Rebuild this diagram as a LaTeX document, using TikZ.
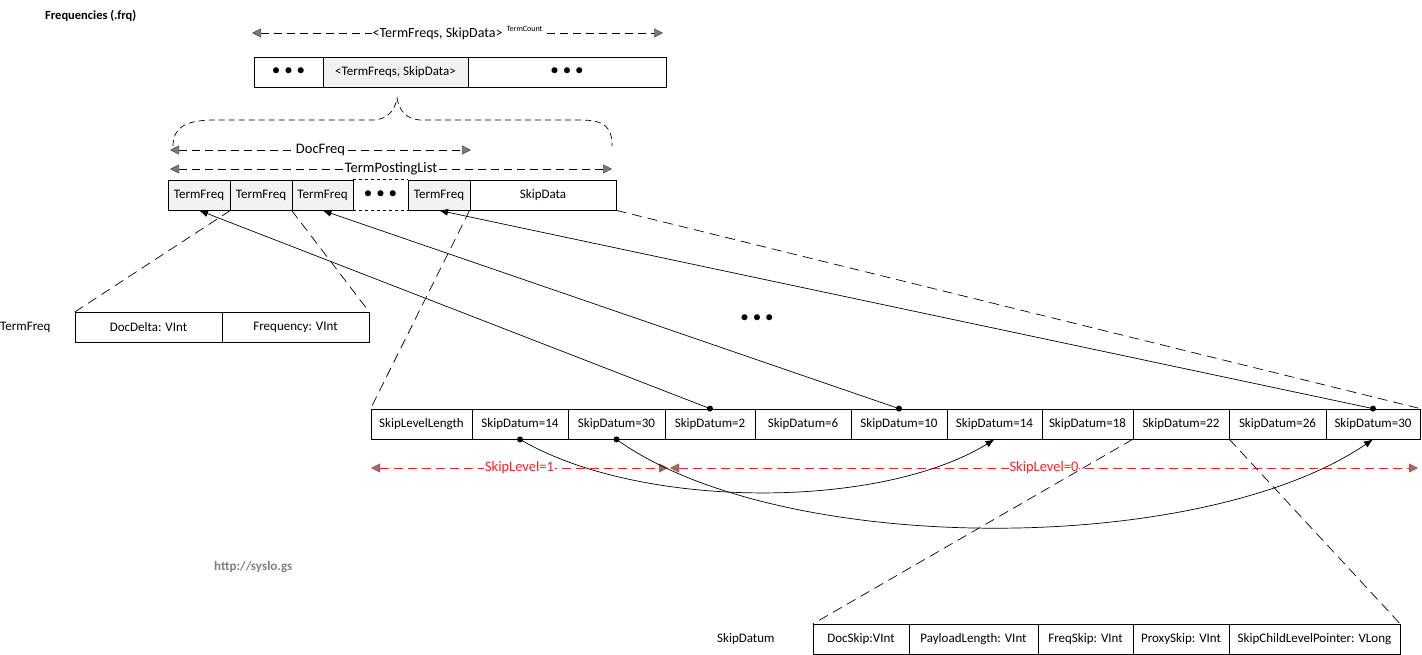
\documentclass[tikz,border=0pt]{standalone}
\usepackage{fontspec}
\setmainfont{Carlito}
\usetikzlibrary{arrows.meta}
\definecolor{cellgray}{HTML}{F2F2F2}
\definecolor{urlgray}{HTML}{7F7F7F}
\definecolor{lvlred}{HTML}{FF2020}
\definecolor{tipgray}{HTML}{7A7A7A}
\begin{document}
\begin{tikzpicture}[x=1pt,y=-1pt,
  cell/.style={draw, line width=0.8pt, minimum height=30pt, inner sep=0pt, font=\fontsize{13}{15}\selectfont},
  shaded/.style={fill=cellgray},
  dots/.style={font=\fontsize{17}{18}\selectfont},
  dim/.style={dash pattern=on 8pt off 5pt, line width=0.7pt,
    {Triangle[length=9pt,width=9pt,fill=tipgray,color=tipgray!70!black]}-{Triangle[length=9pt,width=9pt,fill=tipgray,color=tipgray!70!black]}},
  reddim/.style={dash pattern=on 9pt off 5pt, line width=0.8pt, draw=lvlred,
    {Triangle[length=9pt,width=9pt,fill=tipgray,color=lvlred!60!gray]}-{Triangle[length=9pt,width=9pt,fill=tipgray,color=lvlred!60!gray]}},
  dimlabel/.style={fill=white, inner sep=1pt, font=\fontsize{14.5}{16}\selectfont},
  zoomline/.style={dash pattern=on 10pt off 6pt, line width=0.7pt},
  ptr/.style={line width=0.7pt, -{Latex[length=9pt,width=7pt]}},
  dotmark/.style={fill=black},
  plain/.style={font=\fontsize{13}{15}\selectfont, inner sep=0pt, anchor=west}
]
\useasboundingbox (0,0) rectangle (1422,655);

% title
\node[plain, font=\fontsize{12.5}{14}\selectfont\bfseries] (title) at (45,16) {Frequencies (.frq)};

% top dimension arrow
\coordinate (topL) at (252,33);
\coordinate (topR) at (663,33);
\draw[dim] (topL) -- (topR) node[midway, dimlabel, font=\fontsize{14}{16}\selectfont] (toplabel)
  {<TermFreqs, SkipData>\hspace{4pt}\raisebox{6pt}{\fontsize{8}{9}\selectfont TermCount}};

% top row
\node[cell, minimum width=69pt] (t1) at (288.5,72) {\fontsize{17}{18}\selectfont • • •};
\node[cell, shaded, minimum width=145pt] (t2) at (395.5,72) {<TermFreqs, SkipData>};
\node[cell, minimum width=198pt] (t3) at (567,72) {\fontsize{17}{18}\selectfont • • •};

% brace
\draw[dash pattern=on 6pt off 4pt, line width=0.7pt]
  (173,146) .. controls (173,126) and (188,120) .. (215,120) -- (372,120)
  .. controls (388,120) and (395,110) .. (397,98)
  .. controls (399,110) and (406,120) .. (422,120) -- (580,120)
  .. controls (606,120) and (612,128) .. (612,146);

% DocFreq / TermPostingList
\coordinate (dfL) at (170,150);
\coordinate (dfR) at (471,150);
\draw[dim] (dfL) -- (dfR) node[midway, dimlabel] (dflabel) {DocFreq};
\coordinate (tplL) at (170,169);
\coordinate (tplR) at (612,169);
\draw[dim] (tplL) -- (tplR) node[midway, dimlabel] (tpllabel) {TermPostingList};

% middle row
\node[cell, shaded, minimum width=62pt] (m1) at (199,195) {TermFreq};
\node[cell, shaded, minimum width=62pt] (m2) at (261,195) {TermFreq};
\node[cell, shaded, minimum width=61pt] (m3) at (322.5,195) {TermFreq};
\node[cell, draw=none, minimum width=55pt] (m4) at (380.5,195) {\fontsize{17}{18}\selectfont • • •};
\draw[dashed, line width=0.8pt] (m4.north west) -- (m4.north east);
\draw[dashed, line width=0.8pt] (m4.south west) -- (m4.south east);
\node[cell, shaded, minimum width=62pt] (m5) at (439,195) {TermFreq};
\node[cell, minimum width=146pt] (m6) at (543,195) {SkipData};

% TermFreq detail
\node[plain] (tflabel) at (0,327) {TermFreq};
\node[cell, minimum width=147pt] (tf1) at (148.5,327.5) {DocDelta: VInt};
\node[cell, minimum width=147pt] (tf2) at (295.5,327.5) {Frequency: VInt};

% ellipsis in the middle
\node[dots] (midDots) at (757,319) {• • •};

% skip row
\node[cell, minimum width=101pt] (s0) at (421.5,424) {SkipLevelLength};
\node[cell, minimum width=96pt] (s1) at (520,424) {SkipDatum=14};
\node[cell, minimum width=97pt] (s2) at (616.5,424) {SkipDatum=30};
\node[cell, minimum width=90pt] (s3) at (710,424) {SkipDatum=2};
\node[cell, minimum width=96pt] (s4) at (803,424) {SkipDatum=6};
\node[cell, minimum width=96pt] (s5) at (899,424) {SkipDatum=10};
\node[cell, minimum width=95pt] (s6) at (994.5,424) {SkipDatum=14};
\node[cell, minimum width=91pt] (s7) at (1087.5,424) {SkipDatum=18};
\node[cell, minimum width=96pt] (s8) at (1181,424) {SkipDatum=22};
\node[cell, minimum width=97pt] (s9) at (1277.5,424) {SkipDatum=26};
\node[cell, minimum width=94pt] (s10) at (1373,424) {SkipDatum=30};

% skip levels
\coordinate (l1L) at (371,468);
\coordinate (l1R) at (668,468);
\draw[reddim] (l1L) -- (l1R) node[midway, dimlabel, text=lvlred] (l1label) {SkipLevel=1};
\coordinate (l0L) at (670,468);
\coordinate (l0R) at (1418,468);
\draw[reddim] (l0L) -- (l0R) node[midway, dimlabel, text=lvlred] (l0label) {SkipLevel=0};

% SkipDatum detail
\node[plain] (sdlabel) at (717,639) {SkipDatum};
\node[cell, minimum width=96pt] (d1) at (861,639.5) {DocSkip:VInt};
\node[cell, minimum width=129pt] (d2) at (973.5,639.5) {PayloadLength: VInt};
\node[cell, minimum width=95pt] (d3) at (1085.5,639.5) {FreqSkip: VInt};
\node[cell, minimum width=96pt] (d4) at (1181,639.5) {ProxySkip: VInt};
\node[cell, minimum width=171pt] (d5) at (1314.5,639.5) {SkipChildLevelPointer: VLong};

% url
\node[plain, font=\fontsize{13}{15}\selectfont\bfseries, text=urlgray] (url) at (214,567) {http://syslo.gs};

% zoom (dashed) connectors
\draw[zoomline] (m1.south east) -- (tf1.north west);
\draw[zoomline] (m3.south west) -- (tf2.north east);
\draw[zoomline] (m6.south west) -- (s0.north west);
\draw[zoomline] (m6.south east) -- (s10.north east);
\draw[zoomline] (s8.south west) -- (d1.north west);
\draw[zoomline] (s8.south east) -- (d5.north east);

% pointers from level 0 to term freqs
\draw[ptr] (s3.north) -- (m1.south);
\draw[ptr] (s5.north) -- (m3.south);
\draw[ptr] (s10.north) -- (m5.south);
\fill[dotmark] (s3.north) circle (3pt);
\fill[dotmark] (s5.north) circle (3pt);
\fill[dotmark] (s10.north) circle (3pt);

% pointers from level 1 to level 0
\draw[ptr] (s1.south) .. controls (640,510) and (880,510) .. (s6.south);
\draw[ptr] (s2.south) .. controls (780,557) and (1200,557) .. (s10.south);
\fill[dotmark] (s1.south) circle (3pt);
\fill[dotmark] (s2.south) circle (3pt);
\end{tikzpicture}
\end{document}
